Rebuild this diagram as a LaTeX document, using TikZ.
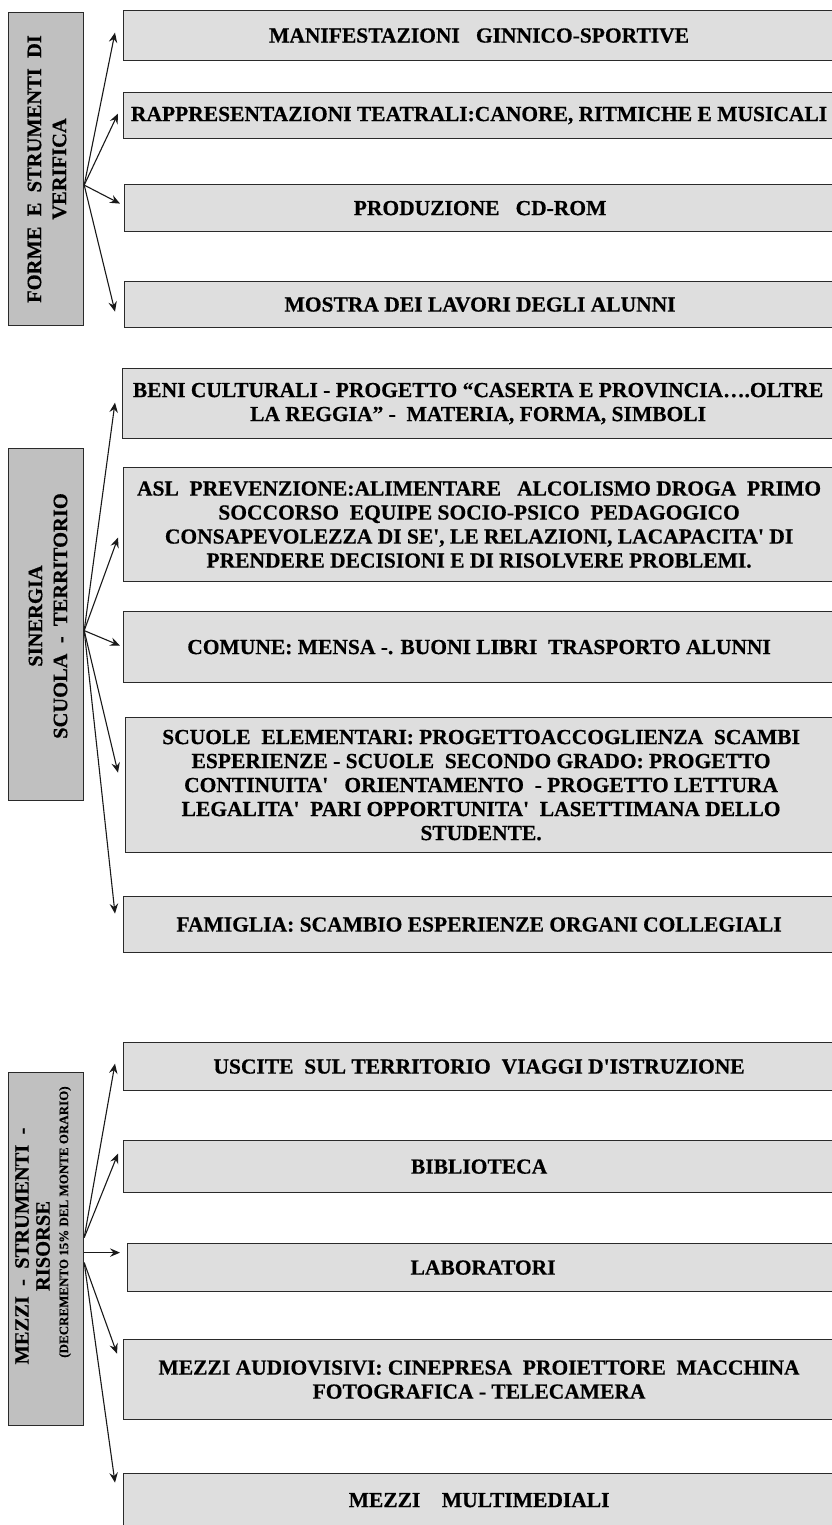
\documentclass[tikz,border=0pt]{standalone}
\usepackage{fontspec}
\newfontfamily\tnr{Liberation Serif}[BoldFont={Liberation Serif Bold}, BoldFeatures={FakeBold=0.5}]
\usetikzlibrary{arrows.meta}
\definecolor{boxgray}{HTML}{DEDEDE}
\definecolor{sidegray}{HTML}{C0C0C0}
\definecolor{edge}{HTML}{2A2A2A}
\tikzset{
  rbox/.style={draw=edge, line width=1.2pt, fill=boxgray, anchor=north west,
    minimum width=711pt, inner sep=0pt, align=center,
    font=\tnr\bfseries\fontsize{21.5}{24}\selectfont},
  lbox/.style={draw=edge, line width=1.2pt, fill=sidegray, anchor=north west,
    minimum width=75pt, inner sep=0pt},
  ltext/.style={rotate=90, align=center, inner sep=0pt,
    font=\tnr\bfseries\fontsize{20.5}{25}\selectfont},
  link/.style={draw=black!90, line width=1.1pt,
    -{Stealth[length=10pt,width=8.5pt,inset=3.5pt]}},
}
\begin{document}
\begin{tikzpicture}[x=1pt,y=-1pt]
\useasboundingbox (0,0) rectangle (832,1525);
\clip (0,0) rectangle (832,1525);

% ---- Forme e strumenti di verifica ----
\node[lbox, minimum height=313pt] (l1) at (8,12) {};
\node[ltext] (t1) at (47,169) {FORME~~E~~STRUMENTI~~DI\\VERIFICA};

\node[rbox, minimum height=50pt] (b1) at (123,10) {MANIFESTAZIONI~~~GINNICO-SPORTIVE};
\node[rbox, minimum height=46pt] (b2) at (123,92) {RAPPRESENTAZIONI TEATRALI:CANORE, RITMICHE E MUSICALI};
\node[rbox, minimum height=47pt] (b3) at (124,184) {PRODUZIONE~~~CD-ROM};
\node[rbox, minimum height=46pt] (b4) at (124,281) {MOSTRA DEI LAVORI DEGLI ALUNNI};

\draw[link] ([shift={(0,16)}]l1.east) -- ([shift={(-8,-3)}]b1.west);
\draw[link] ([shift={(0,16)}]l1.east) -- ([shift={(-5,-2)}]b2.west);
\draw[link] ([shift={(0,16)}]l1.east) -- ([shift={(-4,-4.5)}]b3.west);
\draw[link] ([shift={(0,16)}]l1.east) -- ([shift={(-9,7)}]b4.west);

% ---- Sinergia scuola - territorio ----
\node[lbox, minimum height=352pt] (l2) at (8,448) {};
\node[ltext] (t2) at (48,616) {SINERGIA\\SCUOLA~~-~~TERRITORIO};

\node[rbox, minimum height=70pt] (b5) at (122,368)
  {BENI CULTURALI - PROGETTO “CASERTA E PROVINCIA….OLTRE\\LA REGGIA” -~~MATERIA, FORMA, SIMBOLI};
\node[rbox, minimum height=114pt] (b6) at (123,467)
  {ASL~~PREVENZIONE:ALIMENTARE~~~ALCOLISMO DROGA~~PRIMO\\SOCCORSO~~EQUIPE SOCIO-PSICO~~PEDAGOGICO\\CONSAPEVOLEZZA DI SE', LE RELAZIONI, LACAPACITA' DI\\PRENDERE DECISIONI E DI RISOLVERE PROBLEMI.};
\node[rbox, minimum height=71pt] (b7) at (123,611) {COMUNE: MENSA -. BUONI LIBRI~~TRASPORTO ALUNNI};
\node[rbox, minimum height=135pt] (b8) at (125,717)
  {SCUOLE~~ELEMENTARI: PROGETTOACCOGLIENZA~~SCAMBI\\ESPERIENZE - SCUOLE~~SECONDO GRADO: PROGETTO\\CONTINUITA'~~~ORIENTAMENTO~~- PROGETTO LETTURA\\LEGALITA'~~PARI OPPORTUNITA'~~LASETTIMANA DELLO\\STUDENTE.};
\node[rbox, minimum height=56pt] (b9) at (123,896) {FAMIGLIA: SCAMBIO ESPERIENZE ORGANI COLLEGIALI};

\draw[link] ([shift={(0,6)}]l2.east) -- ([shift={(-7,-1)}]b5.west);
\draw[link] ([shift={(0,6)}]l2.east) -- ([shift={(-5,13)}]b6.west);
\draw[link] ([shift={(0,6)}]l2.east) -- ([shift={(-3,-1.5)}]b7.west);
\draw[link] ([shift={(0,6)}]l2.east) -- ([shift={(-7,-12.5)}]b8.west);
\draw[link] ([shift={(0,6)}]l2.east) -- ([shift={(-8,-11)}]b9.west);

% ---- Mezzi - strumenti - risorse ----
\node[lbox, minimum height=353pt] (l3) at (8,1072) {};
\node[ltext, font=\tnr\bfseries\fontsize{20.5}{21}\selectfont] (t3) at (32.5,1246) {MEZZI~~-~~STRUMENTI~~-\\RISORSE};
\node[ltext, font=\tnr\bfseries\fontsize{13}{15}\selectfont] (t4) at (65,1222) {(DECREMENTO 15\% DEL MONTE ORARIO)};

\node[rbox, minimum height=48pt] (b10) at (123,1042) {USCITE~~SUL TERRITORIO~~VIAGGI D'ISTRUZIONE};
\node[rbox, minimum height=52pt] (b11) at (123,1140) {BIBLIOTECA};
\node[rbox, minimum height=48pt] (b12) at (127,1243) {LABORATORI};
\node[rbox, minimum height=80pt] (b13) at (123,1339)
  {MEZZI AUDIOVISIVI: CINEPRESA~~PROIETTORE~~MACCHINA\\FOTOGRAFICA - TELECAMERA};
\node[rbox, minimum height=53pt] (b14) at (123,1473) {MEZZI~~~~MULTIMEDIALI};

\draw[link] ([shift={(0,-11.5)}]l3.east) -- ([shift={(-8,-3)}]b10.west);
\draw[link] ([shift={(0,-11.5)}]l3.east) -- ([shift={(-5,-13)}]b11.west);
\draw[link] ([shift={(0,3.5)}]l3.east) -- ([shift={(-7,-15)}]b12.west);
\draw[link] ([shift={(0,13.5)}]l3.east) -- ([shift={(-6,-26)}]b13.west);
\draw[link] ([shift={(0,13.5)}]l3.east) -- ([shift={(-8,-17.5)}]b14.west);
\end{tikzpicture}
\end{document}
